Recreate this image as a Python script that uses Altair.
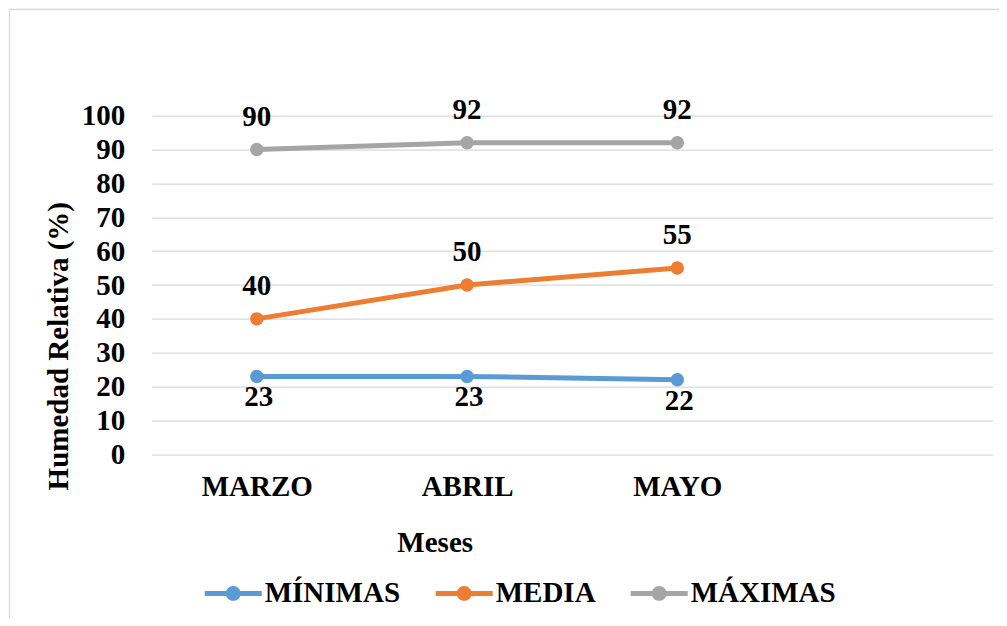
import altair as alt
import pandas as pd

months = ["MARZO", "ABRIL", "MAYO"]
month_domain = months + [" "]
series = ["MÍNIMAS", "MEDIA", "MÁXIMAS"]
minimas = [23, 23, 22]
media = [40, 50, 55]
maximas = [90, 92, 92]
colors = ["#5B9BD5", "#ED7D31", "#A5A5A5"]
y_ticks = [0, 10, 20, 30, 40, 50, 60, 70, 80, 90, 100]

rows = []
for name, vals in zip(series, [minimas, media, maximas]):
    for m, v in zip(months, vals):
        rows.append({"Mes": m, "Serie": name, "Valor": v})
df = pd.DataFrame(rows)

FONT = "Times New Roman, Liberation Serif, serif"
FS = 29

legend_path = ("M-1,-0.09 L1,-0.09 L1,0.09 L-1,0.09 Z "
               "M0.26,0 A0.26,0.26 0 1,1 -0.26,0 A0.26,0.26 0 1,1 0.26,0 Z")

legend = alt.Legend(
    title=None, orient="none", direction="horizontal",
    legendX=53, legendY=449, symbolType=legend_path, symbolSize=3249,
    symbolStrokeWidth=0, symbolOpacity=1,
    labelFont=FONT, labelFontSize=FS, labelFontWeight="bold",
    labelColor="black", labelOffset=3, columnPadding=35, padding=0,
    labelLimit=400,
)

x_enc = alt.X(
    "Mes:N",
    sort=month_domain,
    scale=alt.Scale(type="point", domain=month_domain, padding=0.5),
    axis=alt.Axis(
        title="Meses", domain=False, ticks=False, tickSize=0, grid=False,
        labelAngle=0, labelFont=FONT, labelFontSize=FS, labelFontWeight="bold",
        labelColor="black", labelPadding=18, labelBaseline="top",
        titleFont=FONT, titleFontSize=FS, titleFontWeight="bold", titleColor="black",
        titleX=283, titleY=97, titleAnchor="start", titleAlign="center",
        titleBaseline="alphabetic",
    ),
)
y_enc = alt.Y(
    "Valor:Q",
    scale=alt.Scale(domain=[0, 100], nice=False, zero=True),
    axis=alt.Axis(
        title="Humedad Relativa (%)", values=y_ticks, domain=False, ticks=False,
        tickSize=0, grid=True, gridColor="#d9d9d9", gridWidth=1.3,
        labelFont=FONT, labelFontSize=FS, labelFontWeight="bold", labelColor="black",
        labelPadding=27,
        titleFont=FONT, titleFontSize=FS, titleFontWeight="bold", titleColor="black",
        titleX=-84, titleY=230, titleAngle=270, titleAlign="center",
        titleBaseline="alphabetic", titleAnchor="start",
    ),
)
color_scale = alt.Scale(domain=series, range=colors)

frame = alt.Chart(pd.DataFrame({"a": [0]})).mark_rect(
    fill="transparent", stroke="#d9d9d9", strokeWidth=1.3
).encode(
    x=alt.value(-142.2), x2=alt.value(1000), y=alt.value(-106.2), y2=alt.value(700)
)

base = alt.Chart(df).encode(x=x_enc, y=y_enc)

lines = base.mark_line(strokeWidth=5).encode(
    color=alt.Color("Serie:N", scale=color_scale, legend=legend)
)
points = base.mark_point(filled=True, size=180, opacity=1).encode(
    color=alt.Color("Serie:N", scale=color_scale, legend=legend)
)
labels_up = base.transform_filter(
    alt.datum.Serie != "MÍNIMAS"
).mark_text(
    font=FONT, fontSize=FS, fontWeight="bold", color="black", dy=-33, baseline="middle"
).encode(text="Valor:Q")
labels_down = base.transform_filter(
    alt.datum.Serie == "MÍNIMAS"
).mark_text(
    font=FONT, fontSize=FS, fontWeight="bold", color="black", dy=21, dx=2, baseline="middle"
).encode(text="Valor:Q")

chart = alt.layer(frame, lines, points, labels_up, labels_down).properties(
    width=841,
    height=338.6,
    autosize=alt.AutoSizeParams(type="none"),
    padding={"left": 143.7, "top": 107.7, "right": 6.3, "bottom": 163.7},
).configure(background="white").configure_view(stroke=None)

chart.save("out.html", embed_options={"renderer": "svg", "actions": False})
